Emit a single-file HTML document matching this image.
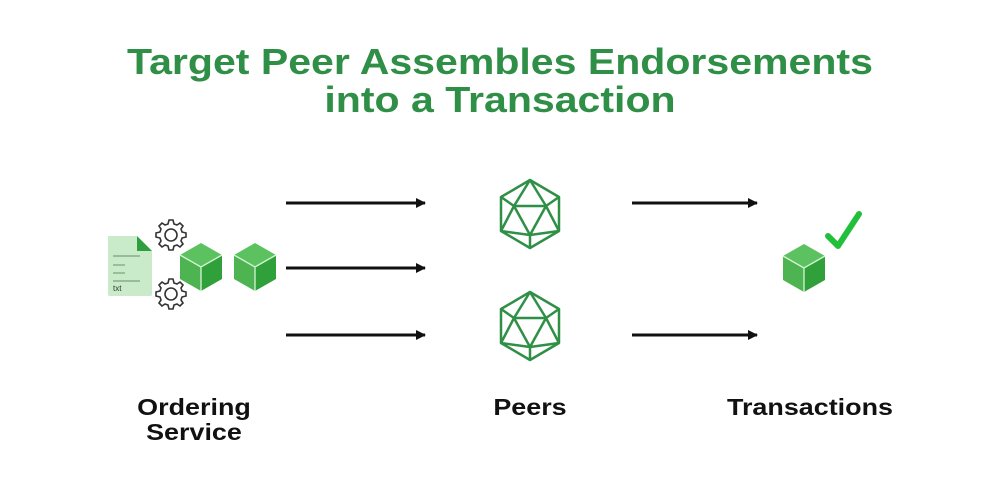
<!DOCTYPE html>
<html><head><meta charset="utf-8"><style>
body{margin:0;width:1000px;height:500px;background:#fff;overflow:hidden;font-family:"Liberation Sans",sans-serif}
.t{position:absolute;left:0;width:1000px;text-align:center;color:#2f8f46;font-weight:bold;font-size:36px;line-height:38px;transform:scaleX(1.14);transform-origin:500px 0}
.l{position:absolute;font-weight:bold;font-size:23px;color:#111;text-align:center;line-height:25px;transform:scaleX(1.17)}
</style></head><body>
<div class="t" style="top:43px">Target Peer Assembles Endorsements</div>
<div class="t" style="top:81px">into a Transaction</div>
<div class="l" style="left:109px;width:170px;top:395px">Ordering<br>Service</div>
<div class="l" style="left:450px;width:160px;top:395px">Peers</div>
<div class="l" style="left:710px;width:200px;top:395px">Transactions</div>
<svg width="1000" height="500" style="position:absolute;left:0;top:0">
<defs>
<marker id="a" markerWidth="10" markerHeight="10" refX="9" refY="5" orient="auto" markerUnits="userSpaceOnUse"><path d="M0,0L10,5L0,10z" fill="#111"/></marker>
<g id="cube"><path d="M0,-24L21,-12L0,0L-21,-12z" fill="#5cc25f"/><path d="M-21,-12L0,0L0,24L-21,12z" fill="#4db451"/><path d="M21,-12L0,0L0,24L21,12z" fill="#2fa03a"/><path d="M-21,-12L0,0L21,-12M0,0L0,24" stroke="#d6f5d6" stroke-width="1.3" fill="none"/></g>
<g id="ico" fill="none" stroke="#2f8f46" stroke-width="2.5" stroke-linejoin="round"><path d="M0,-34L29,-17L29,17L0,34L-29,17L-29,-17z"/><path d="M-16,-8L16,-8L0,21z"/><path d="M0,-34L-16,-8M0,-34L16,-8M29,-17L16,-8M29,17L16,-8M29,17L0,21M0,34L0,21M-29,17L0,21M-29,17L-16,-8M-29,-17L-16,-8"/></g>
<g id="gear" fill="none" stroke="#333" stroke-width="1.6"><circle r="6"/><path d="M-2,-15L2,-15L3,-11L6,-10L9,-12L12,-9L10,-6L11,-3L15,-2L15,2L11,3L10,6L12,9L9,12L6,10L3,11L2,15L-2,15L-3,11L-6,10L-9,12L-12,9L-10,6L-11,3L-15,2L-15,-2L-11,-3L-10,-6L-12,-9L-9,-12L-6,-10L-3,-11z"/></g>
</defs>
<g stroke="#111" stroke-width="3" marker-end="url(#a)">
<line x1="286" y1="203" x2="425" y2="203"/><line x1="286" y1="268" x2="425" y2="268"/><line x1="286" y1="335" x2="425" y2="335"/>
<line x1="632" y1="203" x2="757" y2="203"/><line x1="632" y1="335" x2="757" y2="335"/>
</g>
<path d="M108,236L137,236L152,251L152,294Q152,296 150,296L110,296Q108,296 108,294z" fill="#c9ebc9"/>
<path d="M137,236L152,251L137,251z" fill="#2e9e3e"/>
<g stroke="#7aa07a" stroke-width="1.2"><line x1="113" y1="256" x2="140" y2="256"/><line x1="113" y1="265" x2="125" y2="265"/><line x1="113" y1="273" x2="125" y2="273"/><line x1="113" y1="281" x2="140" y2="281"/></g>
<text x="113" y="291" font-family="Liberation Sans" font-size="8" fill="#333">txt</text>
<use href="#gear" x="171" y="235"/><use href="#gear" x="171" y="294"/>
<use href="#cube" x="201" y="267"/><use href="#cube" x="255" y="267"/><use href="#cube" x="804" y="268"/>
<use href="#ico" x="530" y="214"/><use href="#ico" x="530" y="326"/>
<path d="M828,236L838,246L859,214" fill="none" stroke="#22c03a" stroke-width="6" stroke-linecap="round" stroke-linejoin="round"/>
</svg>
</body></html>
